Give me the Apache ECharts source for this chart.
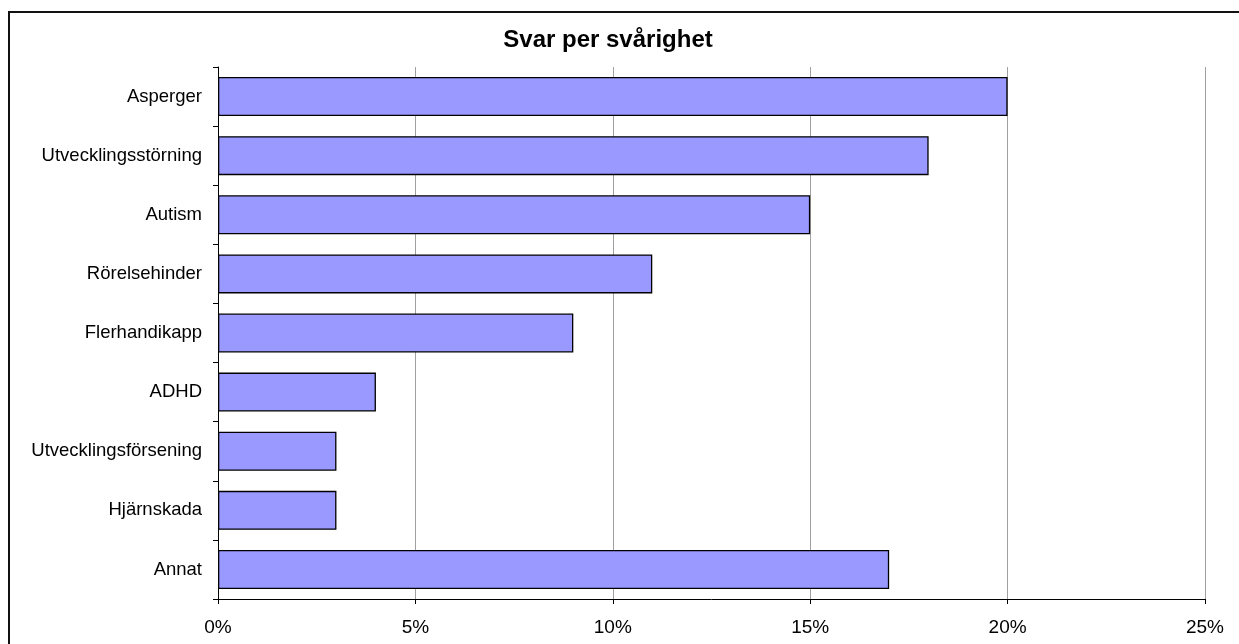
<!DOCTYPE html>
<html>
<head>
<meta charset="utf-8">
<script src="https://cdn.jsdelivr.net/npm/echarts@6/dist/echarts.min.js"></script>
<style>
  html, body { margin: 0; padding: 0; background: #fff; overflow: hidden; }
  #frame { position: absolute; left: 8px; top: 11px; width: 1300px; height: 700px; border: 2px solid #111; box-sizing: border-box; }
  #main { position: absolute; left: 0; top: 0; width: 1239px; height: 644px; }
</style>
</head>
<body>
<div id="frame"></div>
<div id="main"></div>
<script>
var categories = ['Asperger', 'Utvecklingsstörning', 'Autism', 'Rörelsehinder', 'Flerhandikapp', 'ADHD', 'Utvecklingsförsening', 'Hjärnskada', 'Annat'];
var values = [20, 18, 15, 11, 9, 4, 3, 3, 17];
var xTicks = [0, 5, 10, 15, 20, 25];

var myChart = echarts.init(document.getElementById('main'));
var option = {
  animation: false,
  title: {
    text: 'Svar per svårighet',
    left: 603,
    textAlign: 'center',
    top: 23,
    textStyle: { fontFamily: 'Liberation Sans', fontSize: 24, fontWeight: 'bold', color: '#000' }
  },
  grid: { left: 218, right: 34, top: 67, bottom: 45 },
  xAxis: {
    type: 'value',
    min: xTicks[0],
    max: xTicks[xTicks.length - 1],
    interval: 5,
    axisLine: { show: true, lineStyle: { color: '#000', width: 1 } },
    axisTick: { show: true, length: 5, lineStyle: { color: '#000' } },
    axisLabel: {
      margin: 19,
      fontFamily: 'Liberation Sans', fontSize: 19, color: '#000',
      formatter: function (v) { return v + '%'; }
    },
    splitLine: { show: true, lineStyle: { color: '#a0a0a0', width: 1 } }
  },
  yAxis: {
    type: 'category',
    data: categories,
    inverse: true,
    axisLine: { show: true, lineStyle: { color: '#000', width: 1 } },
    axisTick: { show: true, length: 5, lineStyle: { color: '#000' } },
    axisLabel: { margin: 16, fontFamily: 'Liberation Sans', fontSize: 18.5, color: '#000' }
  },
  series: [
    {
      type: 'bar',
      data: values,
      barCategoryGap: '34%',
      itemStyle: { color: '#9999ff', borderColor: '#000', borderWidth: 1.3 }
    }
  ]
};
myChart.setOption(option);
</script>
</body>
</html>
